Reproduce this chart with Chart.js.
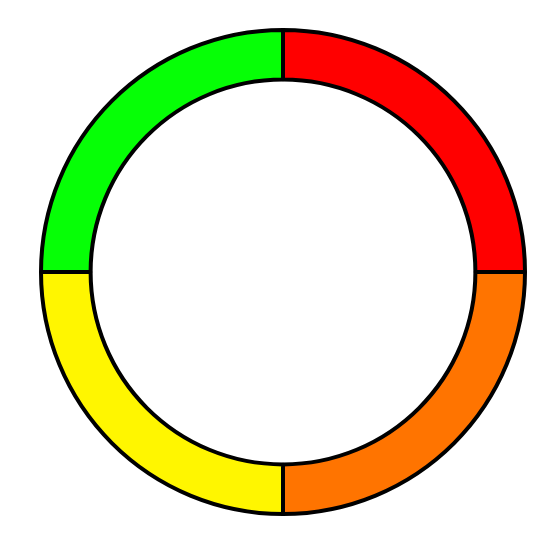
<!DOCTYPE html>
<html>
<head>
<meta charset="utf-8">
<script src="https://cdn.jsdelivr.net/npm/chart.js@4/dist/chart.umd.min.js"></script>
<style>
  html, body { margin: 0; padding: 0; background: #fff; }
  #wrap { width: 554px; height: 547px; }
</style>
</head>
<body>
<div id="wrap"><canvas id="ring"></canvas></div>
<script>
// --- chart data ---
const labels = ['Red', 'Orange', 'Yellow', 'Green'];
const values = [25, 25, 25, 25];
const colors = ['#ff0000', '#ff7400', '#fff600', '#06ff06'];

new Chart(document.getElementById('ring').getContext('2d'), {
  type: 'doughnut',
  data: {
    labels: labels,
    datasets: [{
      data: values,
      backgroundColor: colors,
      borderColor: '#000',
      borderWidth: 4
    }]
  },
  options: {
    responsive: true,
    maintainAspectRatio: false,
    animation: false,
    cutout: '79.5%',
    layout: { padding: { left: 39, right: 27, top: 28, bottom: 31 } },
    plugins: {
      legend: { display: false },
      tooltip: { enabled: false }
    }
  }
});
</script>
</body>
</html>
